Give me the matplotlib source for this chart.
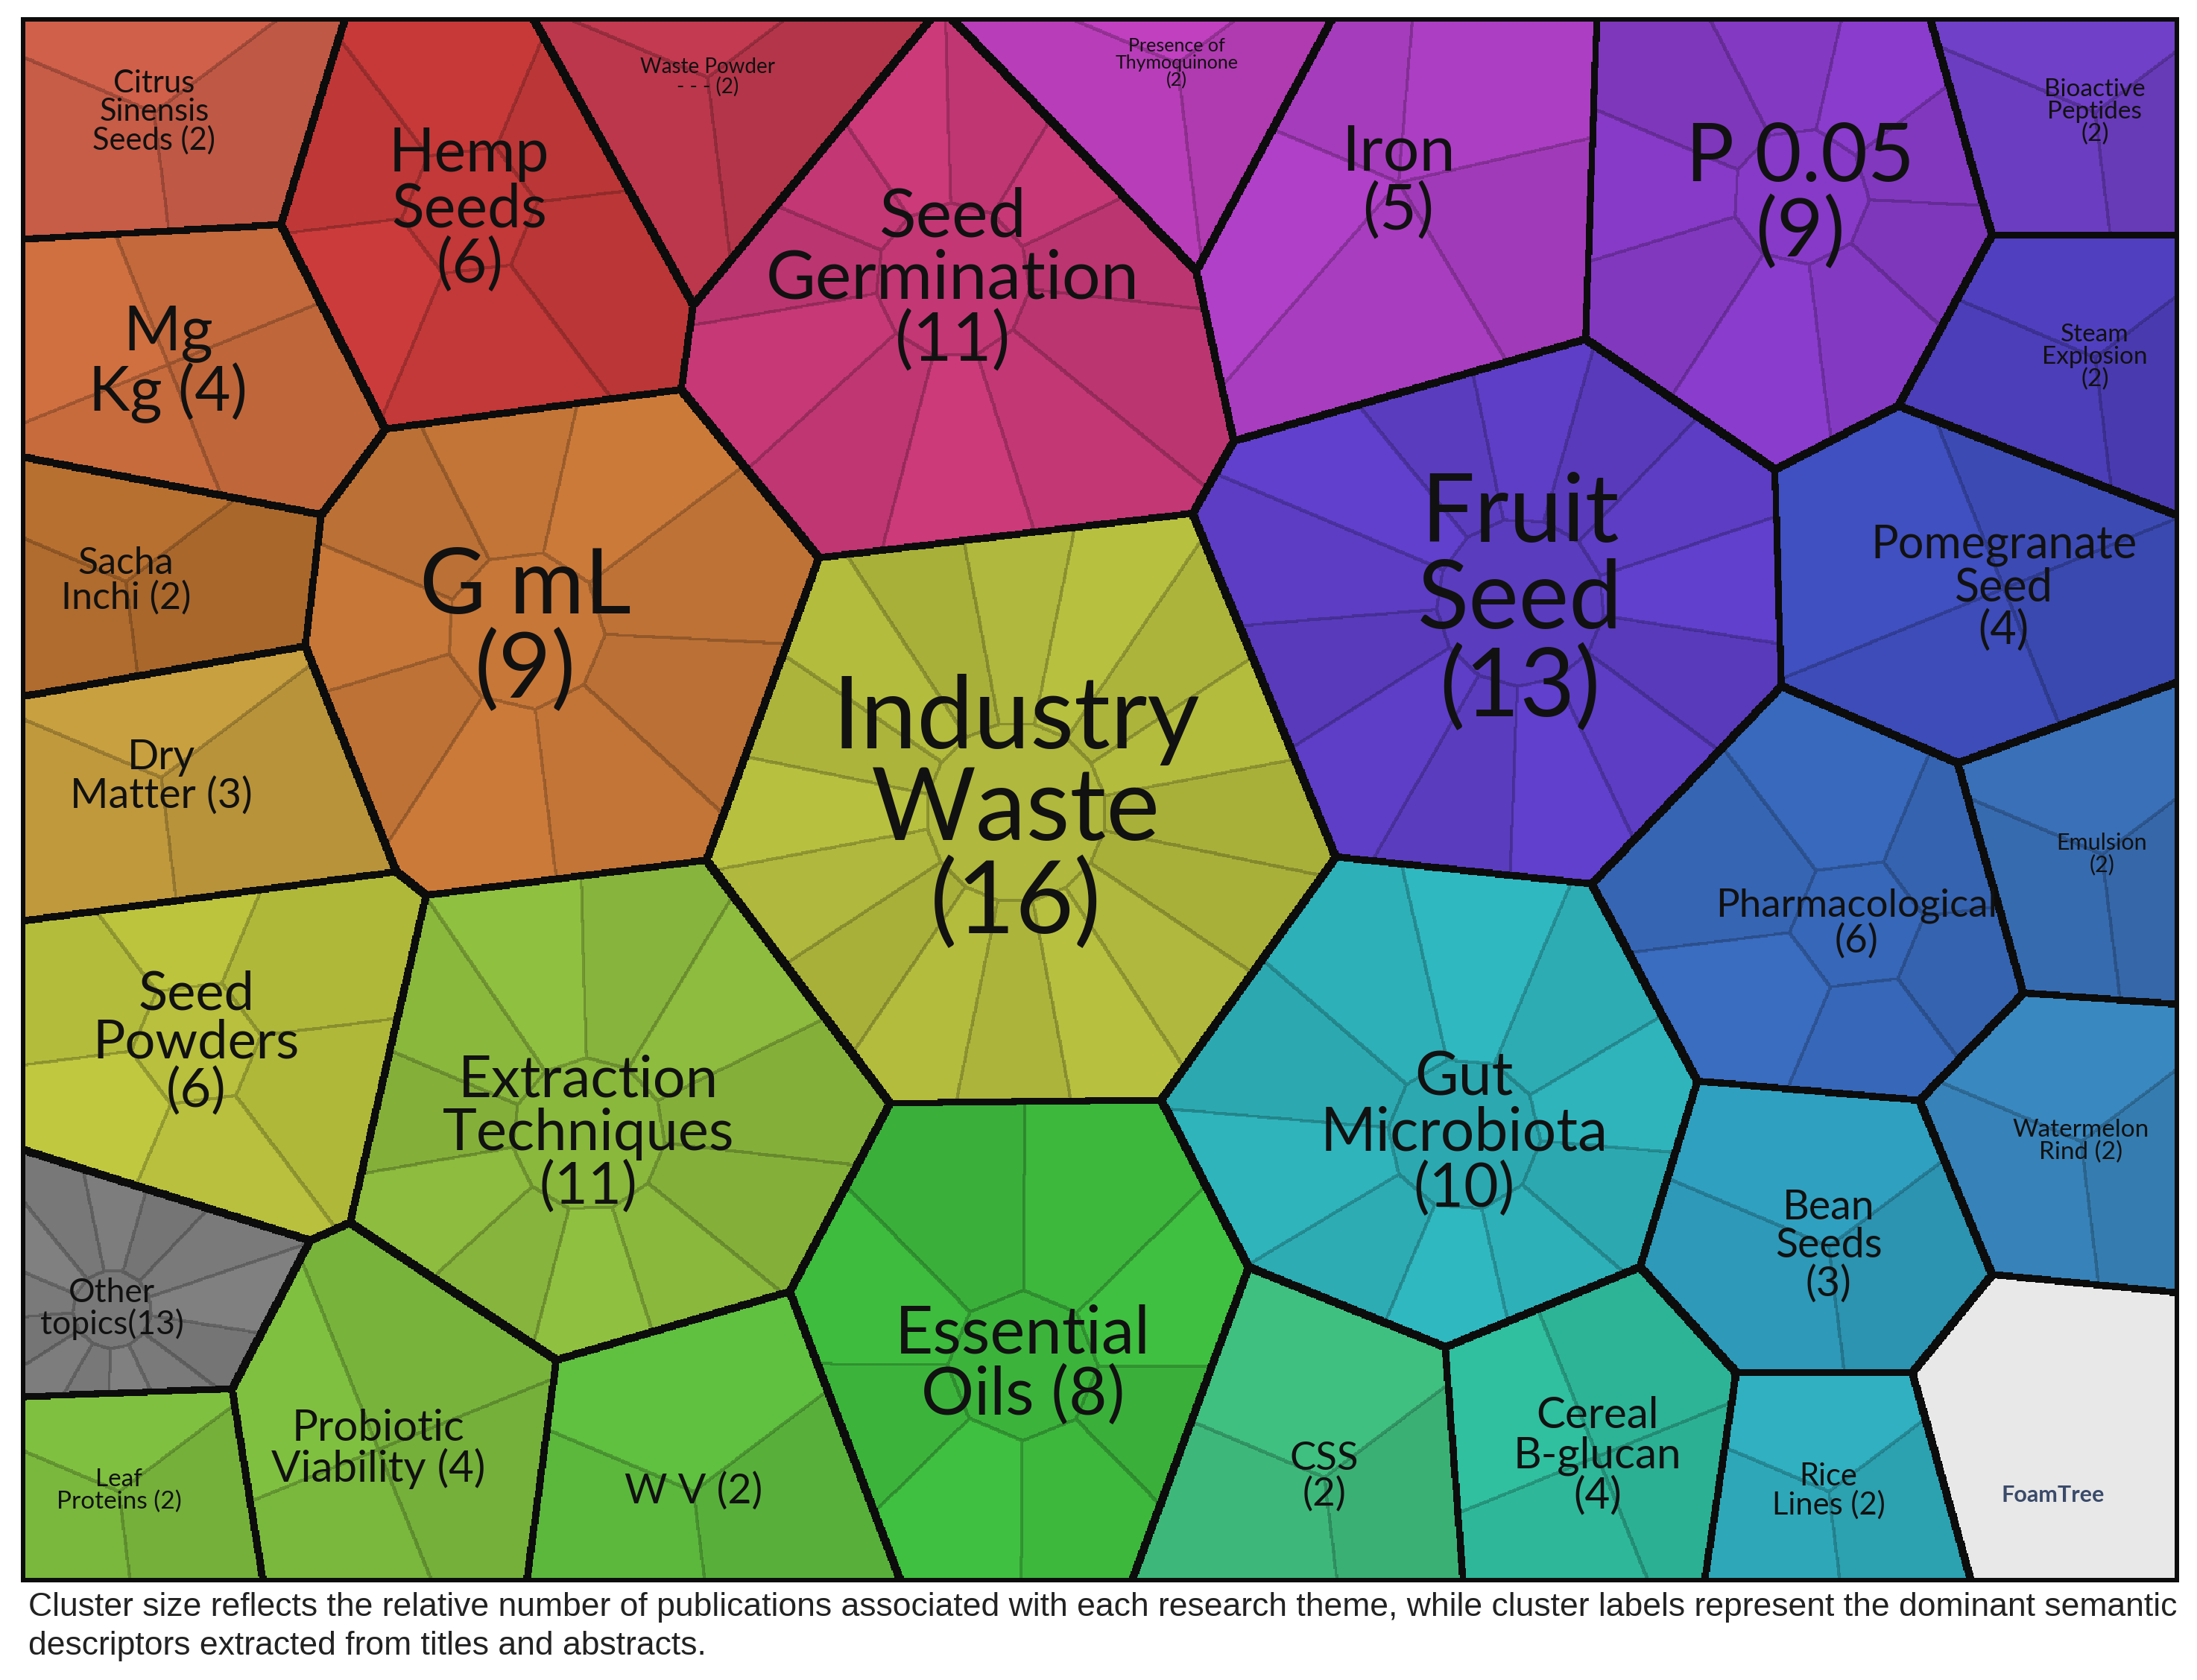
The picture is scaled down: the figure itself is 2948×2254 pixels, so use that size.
import numpy as np
import matplotlib.pyplot as plt
import matplotlib.colors as mcolors

# cluster labels, publication counts and colours
labels = ["Citrus\nSinensis\nSeeds (2)", "Hemp\nSeeds\n(6)", "Waste Powder\n- - - (2)", "Seed\nGermination\n(11)",
          "Presence of\nThymoquinone\n(2)", "Iron\n(5)", "P 0.05\n(9)", "Bioactive\nPeptides\n(2)",
          "Mg\nKg (4)", "G mL\n(9)", "Sacha\nInchi (2)", "Fruit\nSeed\n(13)", "Steam\nExplosion\n(2)",
          "Pomegranate\nSeed\n(4)", "Dry\nMatter (3)", "Industry\nWaste\n(16)", "Seed\nPowders\n(6)",
          "Extraction\nTechniques\n(11)", "Pharmacological\n(6)", "Emulsion\n(2)", "Gut\nMicrobiota\n(10)",
          "Watermelon\nRind (2)", "Bean\nSeeds\n(3)", "Other\ntopics(13)", "Probiotic\nViability (4)",
          "Essential\nOils (8)", "W V (2)", "Leaf\nProteins (2)", "CSS\n(2)", "Cereal\nB-glucan\n(4)",
          "Rice\nLines (2)", ""]
counts = [2, 6, 2, 11, 2, 5, 9, 2, 4, 9, 2, 13, 2, 4, 3, 16, 6, 11, 6, 2, 10, 2, 3, 13, 4, 8, 2, 2, 2, 4, 2, 0]
colors = ["#d0604a", "#cc3b3b", "#c43a50", "#cc3a7a", "#c040c0", "#b040c8", "#8a3ccc", "#7040c8",
          "#d07040", "#cc7a3a", "#b87030", "#6040cc", "#5040c0", "#4050c0", "#c8a040", "#b8c040",
          "#c0c840", "#90c040", "#3a6cc0", "#3a70b8", "#30b8c0", "#3a88c0", "#30a0c0", "#808080",
          "#80c040", "#40c040", "#60c040", "#80c040", "#40c080", "#30c0a0", "#30b0c0", "#e8e8e8"]

# layout: cell sites (display px), layout weights, label font sizes
sites = [(110, 80), (335, 150), (505, 55), (680, 200), (840, 45), (998, 130), (1285, 140), (1495, 80),
         (120, 260), (375, 450), (90, 415), (1085, 430), (1495, 255), (1430, 420), (115, 555), (725, 580),
         (140, 745), (420, 810), (1325, 660), (1500, 610), (1045, 810), (1485, 815), (1305, 890), (80, 935),
         (270, 1035), (730, 975), (495, 1065), (85, 1065), (945, 1055), (1140, 1040), (1305, 1065), (1465, 1020)]
weights = [2, 6, 2, 11, 2, 5, 9, 2, 4, 9, 2, 13, 2, 4, 3, 16, 6, 11, 6, 2, 10, 2, 3, 1.5, 4, 8, 2, 3, 2, 4, 2, 3]
fsizes = [30, 58, 20, 66, 18, 62, 78, 24, 60, 88, 36, 92, 24, 44, 40, 98, 52, 56, 38, 22, 58, 24, 40,
          32, 42, 64, 40, 24, 38, 42, 30, 10]
X0, Y0, X1, Y1 = 15, 12, 1555, 1130
S = 1.5
W, H = int((X1 - X0) * S), int((Y1 - Y0) * S)

yy, xx = np.mgrid[0:H, 0:W].astype(np.float32)
xx = xx / S + X0
yy = yy / S + Y0
best = np.full((H, W), np.inf, np.float32)
lab = np.zeros((H, W), np.int32)
for i, (sx, sy) in enumerate(sites):
    d = (xx - sx) ** 2 + (yy - sy) ** 2 - 900.0 * weights[i]
    m = d < best
    best[m] = d[m]
    lab[m] = i

# sub-cells inside each cluster
sub = np.zeros((H, W), np.int32)
img = np.zeros((H, W, 3), np.float32)
for i, (sx, sy) in enumerate(sites):
    m = lab == i
    base = np.array(mcolors.to_rgb(colors[i]))
    if counts[i] == 0:
        img[m] = base
        continue
    r = np.sqrt(m.sum() / S / S / np.pi)
    n = max(counts[i], 3)
    pts = [(sx + 0.6 * r * np.cos(2 * np.pi * k / n + 0.4), sy + 0.6 * r * np.sin(2 * np.pi * k / n + 0.4)) for k in range(n)]
    if counts[i] > 5:
        pts.append((sx, sy))
    px, py = xx[m], yy[m]
    sb = np.full(px.shape, np.inf, np.float32)
    sl = np.zeros(px.shape, np.int32)
    for k, (qx, qy) in enumerate(pts):
        d = (px - qx) ** 2 + (py - qy) ** 2
        mm = d < sb
        sb[mm] = d[mm]
        sl[mm] = k
    sub[m] = sl
    shade = 0.92 + 0.08 * ((sl * 7) % 5) / 4.0
    img[m] = base[None, :] * shade[:, None]

def edges(a):
    e = np.zeros(a.shape, bool)
    e[:-1, :] |= a[:-1, :] != a[1:, :]
    e[:, :-1] |= a[:, :-1] != a[:, 1:]
    return e

def dilate(e, k):
    out = e.copy()
    for dy in range(-k, k + 1):
        for dx in range(-k, k + 1):
            out |= np.roll(np.roll(e, dy, 0), dx, 1)
    return out

sub_e = dilate(edges(sub * 100 + lab), 1)
img[sub_e] *= 0.78
main_e = dilate(edges(lab), 3)
main_e[:5, :] = main_e[-5:, :] = True
main_e[:, :5] = main_e[:, -5:] = True
img[main_e] = 0.05

fig = plt.figure(figsize=(29.48, 22.54), dpi=100)
ax = fig.add_axes([X0 / 1568, 1 - Y1 / 1200, (X1 - X0) / 1568, (Y1 - Y0) / 1200])
ax.imshow(img, extent=[X0, X1, Y1, Y0], interpolation="nearest", aspect="auto")
ax.set_xlim(X0, X1)
ax.set_ylim(Y1, Y0)
ax.axis("off")

for i, t in enumerate(labels):
    if t:
        ax.text(sites[i][0], sites[i][1], t, ha="center", va="center", fontsize=fsizes[i],
                family="Lato", color="#111111", linespacing=1.0)
ax.text(1465, 1068, "FoamTree", ha="center", va="center", fontsize=22, family="Lato",
        weight="bold", color="#3a4a6a")

fig.text(20 / 1568, 1 - 1148 / 1200, "Cluster size reflects the relative number of publications associated with each research theme, while cluster labels represent the dominant semantic",
         fontsize=32, family="Liberation Sans", va="center", color="#222222")
fig.text(20 / 1568, 1 - 1176 / 1200, "descriptors extracted from titles and abstracts.",
         fontsize=32, family="Liberation Sans", va="center", color="#222222")
fig.savefig("out.png", dpi=100)
